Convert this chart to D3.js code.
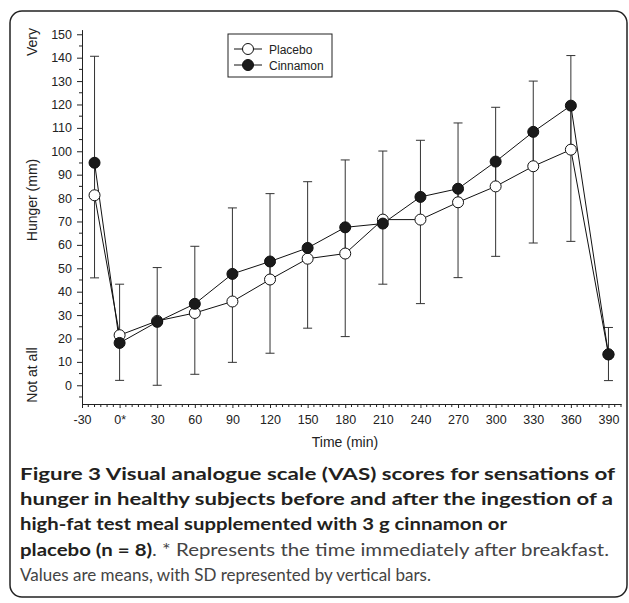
<!DOCTYPE html>
<html>
<head>
<meta charset="utf-8">
<script src="https://cdnjs.cloudflare.com/ajax/libs/d3/7.8.5/d3.min.js"></script>
<style>
  body { margin: 0; background: #fff; }
  svg { display: block; }
  .tick text { font-family: "Liberation Sans", Arial, sans-serif; font-size: 12.5px; fill: #222; }
  .axis path, .axis line { stroke: #222; }
</style>
</head>
<body>
<div id="chart"></div>
<script>
// time points (min); -20 = baseline, 0 = right after breakfast
var times = [-20, 0, 30, 60, 90, 120, 150, 180, 210, 240, 270, 300, 330, 360, 390];
var placebo = [81.2, 21.4, 27.5, 30.9, 35.8, 45.2, 54.1, 56.3, 70.8, 70.8, 78.2, 85.0, 93.6, 100.7, 13.2];
var placeboSD = [35.3, 19.3, 27.5, 26.2, 26.0, 31.5, 29.7, 35.5, 27.6, 35.9, 32.2, 29.9, 32.8, 39.2, 11.2];
var cinnamon = [95.1, 18.1, 27.1, 34.8, 47.6, 52.9, 58.7, 67.5, 69.1, 80.5, 84.0, 95.6, 108.3, 119.5, 13.2];
var cinnamonSD = [45.5, 25.1, 23.2, 24.6, 28.2, 29.0, 28.3, 28.8, 31.0, 24.2, 28.1, 23.2, 21.7, 21.4, 11.5];
var xTicks = [-30, 0, 30, 60, 90, 120, 150, 180, 210, 240, 270, 300, 330, 360, 390];
var yTicks = [0, 10, 20, 30, 40, 50, 60, 70, 80, 90, 100, 110, 120, 130, 140, 150];

var W = 629, H = 603;
var svg = d3.select("#chart").append("svg")
    .attr("width", W)
    .attr("height", H);

// outer frame
svg.append("rect")
    .attr("x", 10).attr("y", 11)
    .attr("width", 617).attr("height", 586)
    .attr("rx", 12).attr("ry", 12)
    .style("fill", "none")
    .style("stroke", "#222")
    .style("stroke-width", 1.5);

var x = d3.scaleLinear().domain([-30, 400]).range([82, 621]);
var y = d3.scaleLinear().domain([-8, 152]).range([404, 29.6]);

//Axes
var xAxis = d3.axisBottom(x)
    .tickValues(xTicks)
    .tickSize(4)
    .tickSizeOuter(0)
    .tickPadding(5)
    .tickFormat(function(d){ return d === 0 ? "0*" : d; });
var yAxis = d3.axisLeft(y)
    .tickValues(yTicks)
    .tickSize(5)
    .tickSizeOuter(0)
    .tickPadding(5);

// minor ticks every 5
var xMinor = d3.range(-25, 401, 5).filter(function(d){ return d % 30 !== 0; });
var yMinor = d3.range(-5, 151, 5).filter(function(d){ return d % 10 !== 0; });

svg.append("g")
    .attr("class", "x axis")
    .attr("transform", "translate(0,404)")
    .call(xAxis)
  .selectAll(".minor")
    .data(xMinor)
  .enter().append("line")
    .attr("x1", function(d){ return x(d); })
    .attr("x2", function(d){ return x(d); })
    .attr("y1", 0).attr("y2", 3)
    .style("stroke", "#222");

svg.append("g")
    .attr("class", "y axis")
    .attr("transform", "translate(82,0)")
    .call(yAxis)
  .selectAll(".minor")
    .data(yMinor)
  .enter().append("line")
    .attr("y1", function(d){ return y(d); })
    .attr("y2", function(d){ return y(d); })
    .attr("x1", 0).attr("x2", -3)
    .style("stroke", "#222");

svg.selectAll(".x.axis .tick text").attr("dy", "0.9em");

// axis titles
svg.append("text")
    .attr("x", 345).attr("y", 447)
    .style("text-anchor", "middle")
    .style("font-family", "Liberation Sans, Arial, sans-serif")
    .style("font-size", "14px")
    .style("fill", "#222")
    .text("Time (min)");

var yTitles = [["Very", 42], ["Hunger (mm)", 200], ["Not at all", 375]];
svg.selectAll(".ytitle")
    .data(yTitles)
  .enter().append("text")
    .attr("class", "ytitle")
    .attr("transform", function(d){ return "translate(37," + d[1] + ") rotate(-90)"; })
    .style("text-anchor", "middle")
    .style("font-family", "Liberation Sans, Arial, sans-serif")
    .style("font-size", "14px")
    .style("fill", "#222")
    .text(function(d){ return d[0]; });

// error bars: cinnamon upward, placebo downward
var capW = 4.5;
var bars = svg.append("g").attr("class", "errorbars");
times.forEach(function(t, i){
    var top = cinnamon[i] + cinnamonSD[i];
    var bot = placebo[i] - placeboSD[i];
    var cx = x(t);
    bars.append("line")
        .attr("x1", cx).attr("x2", cx)
        .attr("y1", y(top)).attr("y2", y(Math.min(cinnamon[i], placebo[i])))
        .style("stroke", "#333");
    bars.append("line")
        .attr("x1", cx).attr("x2", cx)
        .attr("y1", y(bot)).attr("y2", y(Math.max(cinnamon[i], placebo[i])))
        .style("stroke", "#333");
    bars.append("line")
        .attr("x1", cx - capW).attr("x2", cx + capW)
        .attr("y1", y(top)).attr("y2", y(top))
        .style("stroke", "#333");
    bars.append("line")
        .attr("x1", cx - capW).attr("x2", cx + capW)
        .attr("y1", y(bot)).attr("y2", y(bot))
        .style("stroke", "#333");
});

var line = d3.line()
    .x(function(d){ return x(d[0]); })
    .y(function(d){ return y(d[1]); });

var series = [
    {name: "Placebo", values: placebo, fill: "#fff"},
    {name: "Cinnamon", values: cinnamon, fill: "#1a1a1a"}
];

series.forEach(function(s){
    svg.append("path")
        .attr("d", line(times.map(function(t, i){ return [t, s.values[i]]; })))
        .style("fill", "none")
        .style("stroke", "#111")
        .style("stroke-width", 1);
});
series.forEach(function(s){
    svg.append("g").selectAll("circle")
        .data(times)
      .enter().append("circle")
        .attr("cx", function(d){ return x(d); })
        .attr("cy", function(d, i){ return y(s.values[i]); })
        .attr("r", 5.5)
        .style("fill", s.fill)
        .style("stroke", "#111")
        .style("stroke-width", 1);
});

// legend
var legend = svg.append("g").attr("transform", "translate(228,34)");
legend.append("rect")
    .attr("width", 104).attr("height", 43)
    .style("fill", "#fff")
    .style("stroke", "#222");
series.forEach(function(s, i){
    var ly = 15 + i * 16;
    legend.append("line")
        .attr("x1", 6).attr("x2", 34)
        .attr("y1", ly).attr("y2", ly)
        .style("stroke", "#111");
    legend.append("circle")
        .attr("cx", 20).attr("cy", ly).attr("r", 5.5)
        .style("fill", s.fill).style("stroke", "#111");
    legend.append("text")
        .attr("x", 41).attr("y", ly + 4.5)
        .style("font-family", "Liberation Sans, Arial, sans-serif")
        .style("font-size", "12px")
        .style("fill", "#222")
        .text(s.name);
});

// caption, each line squeezed to the width it has in the figure
var caption = [
    [["Figure 3 Visual analogue scale (VAS) scores for sensations of", true]],
    [["hunger in healthy subjects before and after the ingestion of a", true]],
    [["high-fat test meal supplemented with 3 g cinnamon or", true]],
    [["placebo (n = 8)", true], [". * Represents the time immediately after breakfast.", false]],
    [["Values are means, with SD represented by vertical bars.", false]]
];
var lineWidths = [595, 593, 487, 589, 411];
var cap = svg.append("g").attr("class", "caption");
caption.forEach(function(parts, i){
    var t = cap.append("text")
        .attr("x", 20).attr("y", 480 + i * 25.2)
        .attr("textLength", lineWidths[i])
        .attr("lengthAdjust", "spacingAndGlyphs")
        .style("font-family", "Lato, Open Sans, sans-serif")
        .style("font-size", "17.5px");
    parts.forEach(function(p){
        t.append("tspan")
            .style("font-weight", p[1] ? "bold" : "normal")
            .style("fill", p[1] ? "#231f20" : "#444")
            .text(p[0]);
    });
});
</script>
</body>
</html>
